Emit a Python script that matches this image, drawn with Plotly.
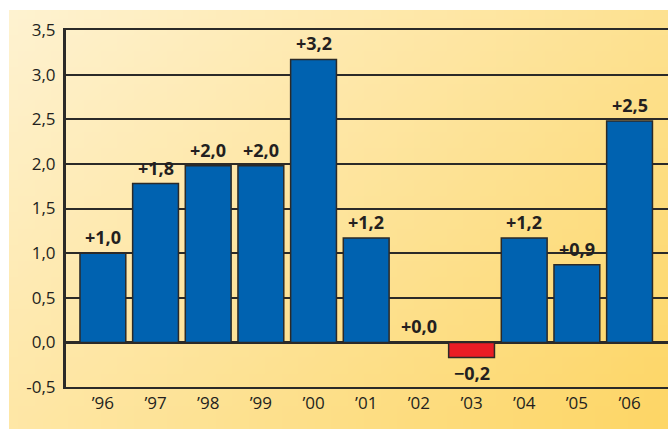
import base64, struct, zlib
import plotly.graph_objects as go

# ---- data ----
years = ["\u201996", "\u201997", "\u201998", "\u201999", "\u201900", "\u201901",
         "\u201902", "\u201903", "\u201904", "\u201905", "\u201906"]
values = [1.0, 1.78, 1.98, 1.98, 3.17, 1.17, 0.0, -0.17, 1.17, 0.87, 2.48]
labels = ["+1,0", "+1,8", "+2,0", "+2,0", "+3,2", "+1,2", "+0,0", "\u22120,2", "+1,2", "+0,9", "+2,5"]
y_tickvals = [-0.5, 0.0, 0.5, 1.0, 1.5, 2.0, 2.5, 3.0, 3.5]
y_ticktext = ["-0,5", "0,0", "0,5", "1,0", "1,5", "2,0", "2,5", "3,0", "3,5"]

BLUE = "#0062b0"
RED = "#ea1d25"
colors = [RED if v < 0 else BLUE for v in values]

# ---- gradient background image (PNG built in memory) ----
def gradient_png(w, h, c0, c1):
    rows = b""
    for j in range(h):
        row = b"\x00"
        for i in range(w):
            t = (i / (w - 1)) * 0.6 + (j / (h - 1)) * 0.4
            t = min(max(t, 0), 1)
            px = bytes(int(round(c0[k] + (c1[k] - c0[k]) * t)) for k in range(3))
            row += px
        rows += row
    def chunk(tag, data):
        c = struct.pack(">I", len(data)) + tag + data
        return c + struct.pack(">I", zlib.crc32(tag + data) & 0xffffffff)
    png = b"\x89PNG\r\n\x1a\n"
    png += chunk(b"IHDR", struct.pack(">IIBBBBB", w, h, 8, 2, 0, 0, 0))
    png += chunk(b"IDAT", zlib.compress(rows))
    png += chunk(b"IEND", b"")
    return "data:image/png;base64," + base64.b64encode(png).decode()

bg = gradient_png(40, 26, (254, 242, 208), (253, 214, 102))

W, H = 668, 429
L, R, T, B = 66, 0, 30, 42
pw, ph = W - L - R, H - T - B
px0, py_top, py_bot = 9, 10, 429

fig = go.Figure()
fig.add_trace(go.Bar(
    x=years, y=values, width=0.87,
    marker=dict(color=colors, line=dict(color="#2b2a28", width=1.5)),
    cliponaxis=False, hoverinfo="skip",
))

annotations = []
for x, v, t in zip(years, values, labels):
    neg = v < 0
    annotations.append(dict(
        x=x, y=v, xref="x", yref="y", text=t, showarrow=False,
        yanchor="top" if neg else "bottom", yshift=-1 if neg else 2,
        font=dict(family="Open Sans", size=18, color="#231f20", weight="bold"),
    ))

fig.update_layout(
    width=W, height=H,
    margin=dict(l=L, r=R, t=T, b=B, pad=0),
    paper_bgcolor="white", plot_bgcolor="rgba(0,0,0,0)",
    showlegend=False,
    font=dict(family="Open Sans", size=17, color="#231f20"),
    annotations=annotations,
    images=[dict(
        source=bg, xref="paper", yref="paper",
        x=(px0 - L) / pw, y=(H - B - py_top) / ph,
        sizex=(W - px0) / pw, sizey=(py_bot - py_top) / ph,
        xanchor="left", yanchor="top", sizing="stretch", layer="below",
    )],
    xaxis=dict(
        range=[-0.7, 10.73], showgrid=False, zeroline=False,
        showline=True, mirror=True, linecolor="#2b2a28", linewidth=1.5,
        ticks="", tickfont=dict(family="Open Sans", size=17, color="#231f20"),
    ),
    yaxis=dict(
        range=[-0.5, 3.5], tickvals=y_tickvals, ticktext=y_ticktext,
        showgrid=True, gridcolor="#2b2a28", gridwidth=1.5,
        zeroline=True, zerolinecolor="#2b2a28", zerolinewidth=2.5,
        showline=True, linecolor="#2b2a28", linewidth=3,
        ticks="outside", ticklen=4, tickcolor="rgba(0,0,0,0)",
        tickfont=dict(family="Open Sans", size=17, color="#231f20"),
    ),
    bargap=0.13,
)

fig.write_html("out.html")
